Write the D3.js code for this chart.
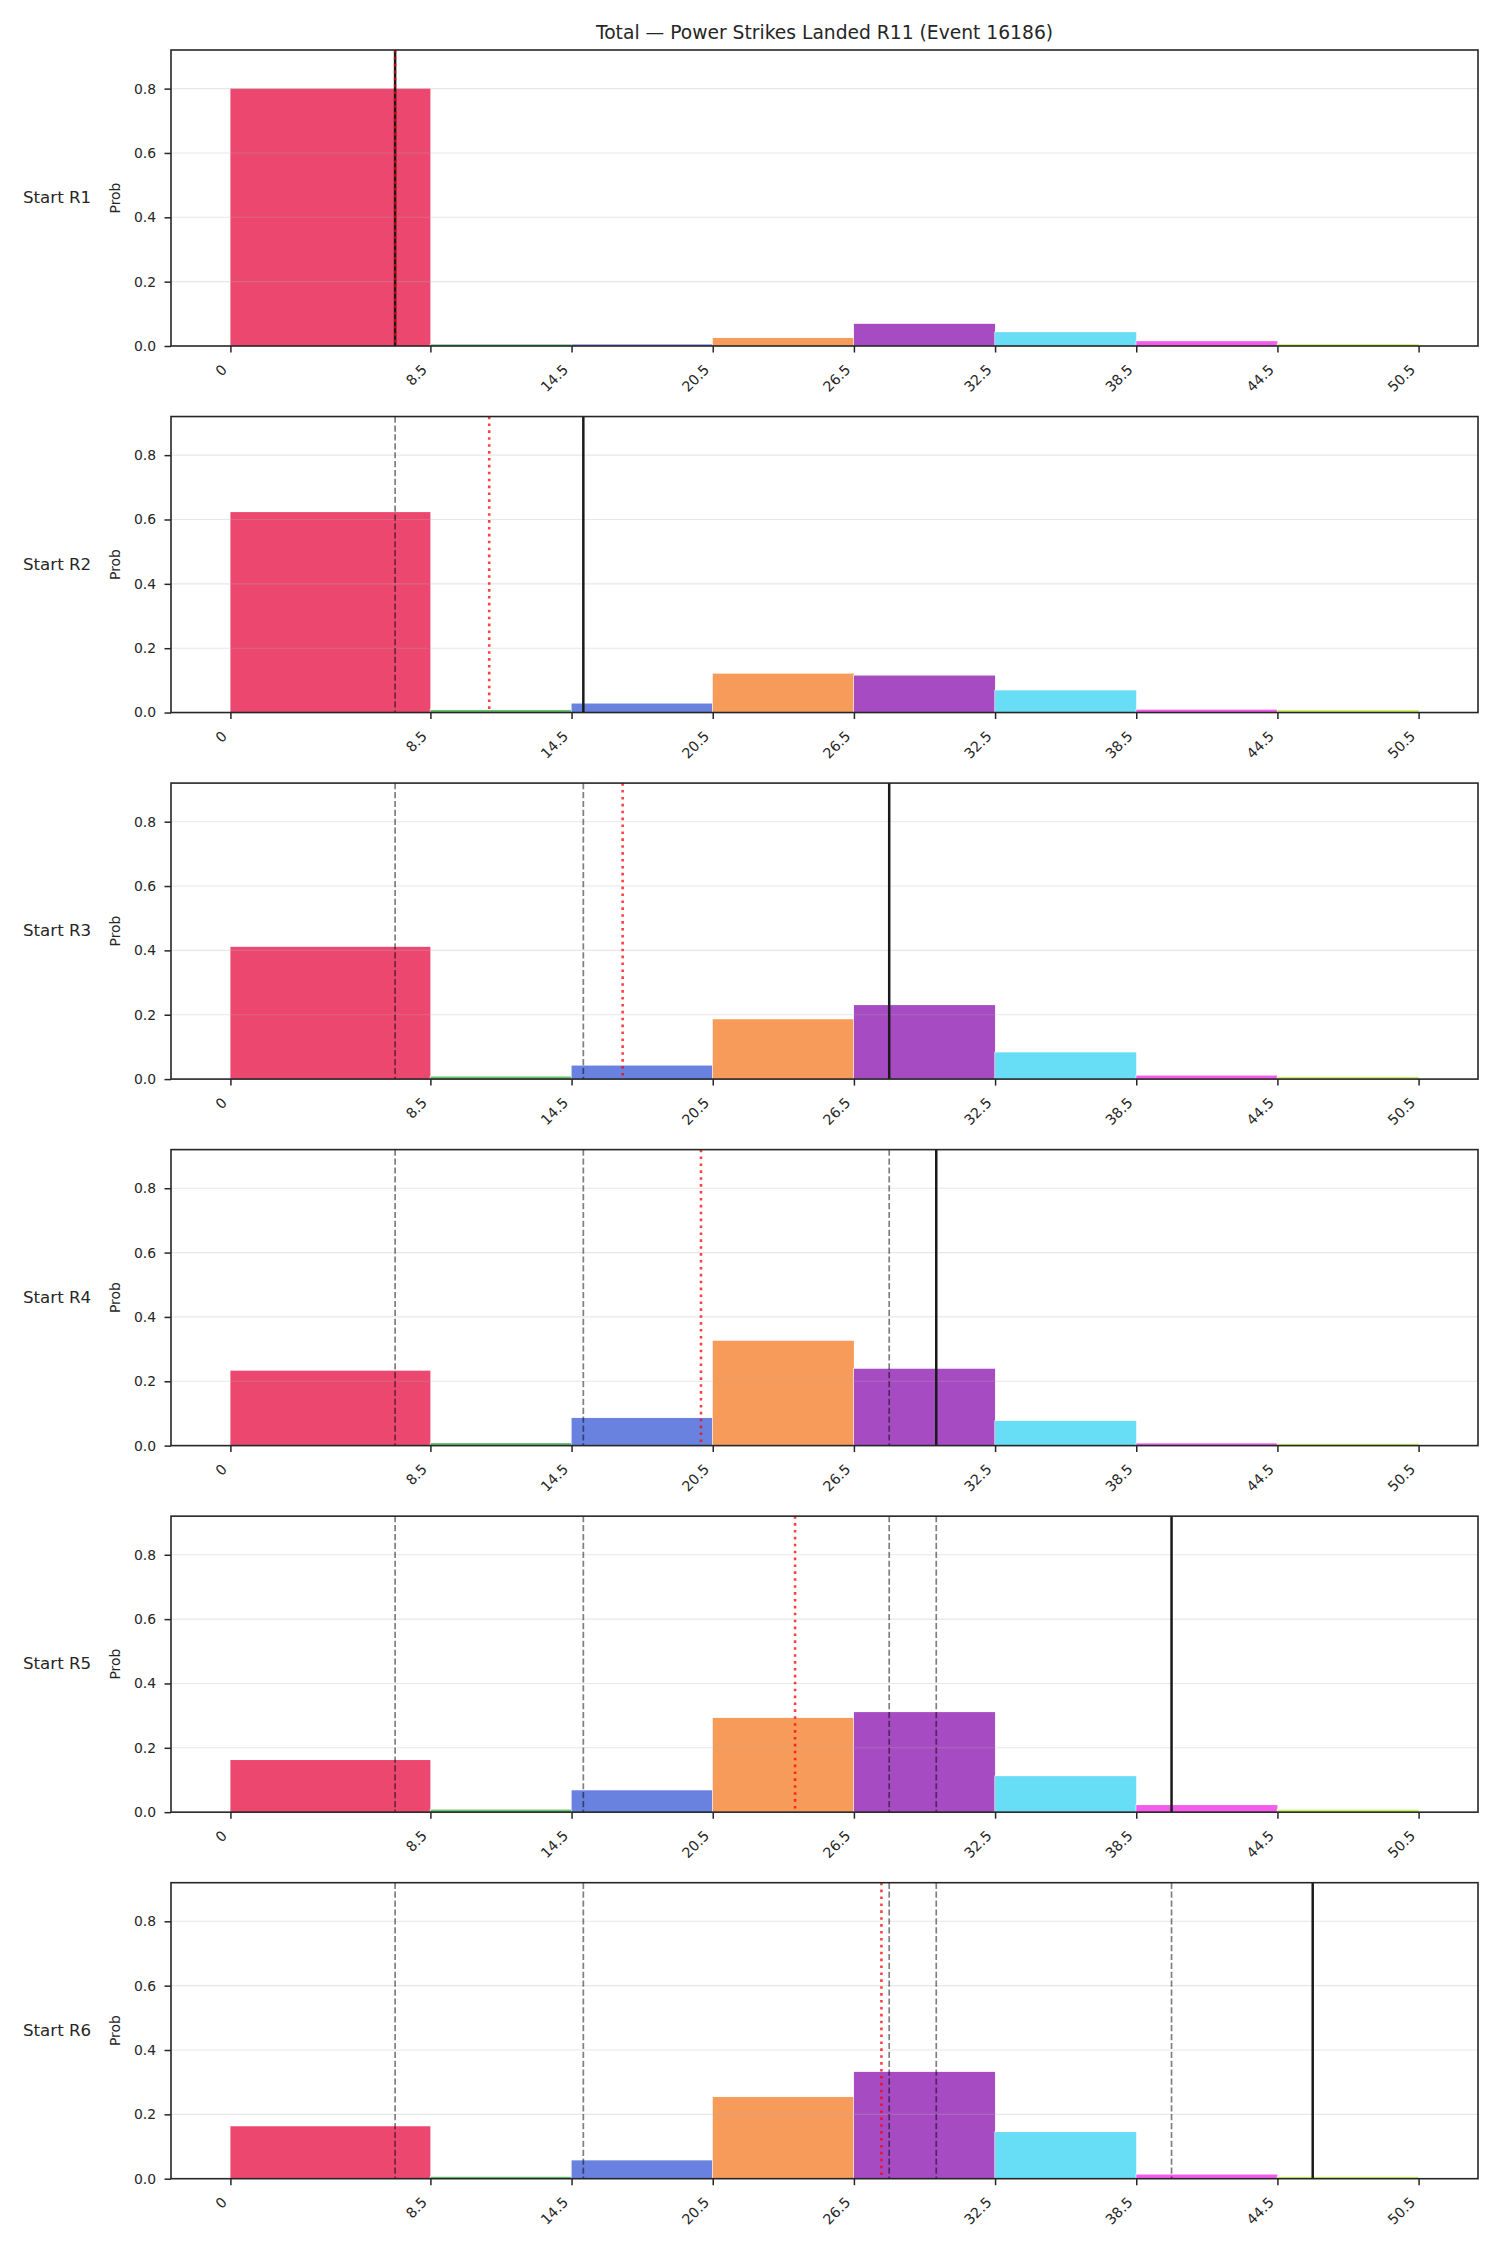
<!DOCTYPE html>
<html>
<head>
<meta charset="utf-8">
<script src="https://cdn.jsdelivr.net/npm/d3@7"></script>
<style>
  html, body { margin: 0; padding: 0; background: #fff; }
  svg { display: block; font-family: "DejaVu Sans", sans-serif; }
</style>
</head>
<body>
<svg id="chart" width="1500" height="2250"></svg>
<script>
// ---- data ----
const title = "Total \u2014 Power Strikes Landed R11 (Event 16186)";
const binEdges = [0, 8.5, 14.5, 20.5, 26.5, 32.5, 38.5, 44.5, 50.5];
const binColors = ["#e6194B", "#3cb44b", "#4363d8", "#f58231", "#911eb4", "#42d4f4", "#f032e6", "#bfef45"];
const roundLabels = ["Start R1", "Start R2", "Start R3", "Start R4", "Start R5", "Start R6"];
const probR1 = [0.800, 0.005, 0.005, 0.025, 0.069, 0.043, 0.015, 0.006];
const probR2 = [0.623, 0.008, 0.028, 0.121, 0.115, 0.069, 0.009, 0.008];
const probR3 = [0.411, 0.008, 0.042, 0.186, 0.230, 0.083, 0.011, 0.007];
const probR4 = [0.233, 0.008, 0.086, 0.326, 0.239, 0.077, 0.007, 0.006];
const probR5 = [0.162, 0.008, 0.068, 0.293, 0.311, 0.112, 0.022, 0.008];
const probR6 = [0.163, 0.006, 0.057, 0.254, 0.332, 0.145, 0.013, 0.006];
const probs = [probR1, probR2, probR3, probR4, probR5, probR6];
const actualTotals = [7, 15, 28, 30, 40, 46];         // black solid (current), dashed (earlier rounds)
const expectedTotals = [7, 11, 16.67, 20, 24, 27.67];  // red dotted
const yTicks = [0, 0.2, 0.4, 0.6, 0.8];
const yMax = 0.92;

// ---- layout ----
const svg = d3.select("#chart");
const left = 171, right = 1478;
const firstTop = 50, pitch = 366.54, panelH = 296;
const x = d3.scaleLinear().domain([-2.525, 53.025]).range([left, right]);
const textColor = "#262626";

svg.append("text")
  .attr("x", (left + right) / 2).attr("y", 38.5)
  .attr("text-anchor", "middle")
  .attr("font-size", 18.7).attr("fill", textColor)
  .text(title);

probs.forEach((p, i) => {
  const top = firstTop + i * pitch;
  const bottom = top + panelH;
  const y = d3.scaleLinear().domain([0, yMax]).range([bottom, top]);
  const g = svg.append("g");

  const bins = p.map((v, k) => ({ x0: binEdges[k], x1: binEdges[k + 1], v, c: binColors[k] }));
  g.selectAll("rect.bar").data(bins).enter().append("rect")
    .attr("class", "bar")
    .attr("x", d => x(d.x0)).attr("width", d => x(d.x1) - x(d.x0))
    .attr("y", d => y(d.v)).attr("height", d => y(0) - y(d.v))
    .attr("fill", d => d.c).attr("fill-opacity", 0.8)
    .attr("stroke", "#fff").attr("stroke-width", 1.2)
    .style("paint-order", "stroke");

  // grid (y only)
  g.selectAll("line.grid").data(yTicks.slice(1)).enter().append("line")
    .attr("x1", left).attr("x2", right)
    .attr("y1", d => y(d)).attr("y2", d => y(d))
    .attr("stroke", "#b0b0b0").attr("stroke-opacity", 0.3).attr("stroke-width", 1.1);

  // earlier rounds: dashed
  g.selectAll("line.prev").data(actualTotals.slice(0, i)).enter().append("line")
    .attr("x1", d => x(d)).attr("x2", d => x(d))
    .attr("y1", top).attr("y2", bottom)
    .attr("stroke", "#000").attr("stroke-opacity", 0.5)
    .attr("stroke-width", 1.7).attr("stroke-dasharray", "6.2,2.7");

  // current: black solid
  g.append("line")
    .attr("x1", x(actualTotals[i])).attr("x2", x(actualTotals[i]))
    .attr("y1", top).attr("y2", bottom)
    .attr("stroke", "#1a1a1a").attr("stroke-width", 2.5);

  // expected: red dotted
  g.append("line")
    .attr("x1", x(expectedTotals[i])).attr("x2", x(expectedTotals[i]))
    .attr("y1", top).attr("y2", bottom)
    .attr("stroke", "red").attr("stroke-opacity", 0.75)
    .attr("stroke-width", 2.6).attr("stroke-dasharray", "2.6,4.3");

  // axes
  const xAxis = d3.axisBottom(x).tickValues(binEdges)
    .tickFormat(d => d === 0 ? "0" : d3.format(".1f")(d))
    .tickSize(6.5).tickPadding(8);
  const xg = g.append("g").attr("transform", `translate(0,${bottom})`).call(xAxis);
  xg.select(".domain").remove();
  xg.selectAll(".tick line").attr("stroke", textColor).attr("stroke-width", 1.5);
  xg.selectAll(".tick text")
    .attr("y", null).attr("dy", null)
    .attr("text-anchor", "end")
    .attr("transform", "translate(-3,24.5) rotate(-45)")
    .attr("font-size", 14.2).attr("fill", textColor)
    .attr("font-family", "DejaVu Sans, sans-serif");

  const yAxis = d3.axisLeft(y).tickValues(yTicks).tickFormat(d3.format(".1f"))
    .tickSize(6.5).tickPadding(8.5);
  const yg = g.append("g").attr("transform", `translate(${left},0)`).call(yAxis);
  yg.select(".domain").remove();
  yg.selectAll(".tick line").attr("stroke", textColor).attr("stroke-width", 1.5);
  yg.selectAll(".tick text")
    .attr("font-size", 13.9).attr("fill", textColor)
    .attr("font-family", "DejaVu Sans, sans-serif");

  // frame
  g.append("rect")
    .attr("x", left).attr("y", top).attr("width", right - left).attr("height", panelH)
    .attr("fill", "none").attr("stroke", textColor).attr("stroke-width", 1.6);

  // y label
  g.append("text")
    .attr("transform", `translate(120,${(top + bottom) / 2}) rotate(-90)`)
    .attr("text-anchor", "middle")
    .attr("font-size", 13.9).attr("fill", textColor)
    .text("Prob");

  // row label
  g.append("text")
    .attr("x", 23).attr("y", (top + bottom) / 2 + 5)
    .attr("font-size", 16.67).attr("fill", textColor)
    .text(roundLabels[i]);
});
</script>
</body>
</html>
